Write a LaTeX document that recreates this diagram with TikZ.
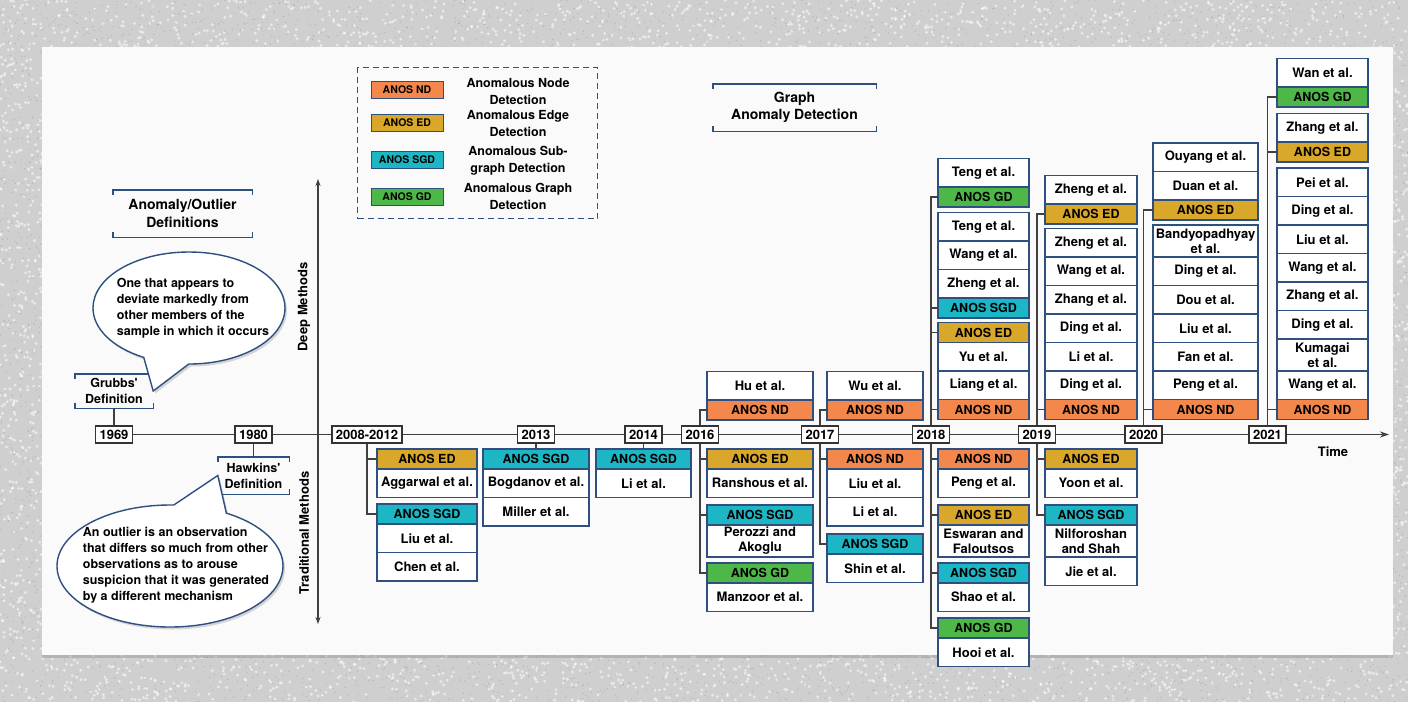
\documentclass[tikz,border=0pt]{standalone}
\usepackage{fontspec}
\setmainfont{TeX Gyre Heros}
\usepackage{xcolor}
\definecolor{navy}{HTML}{2F4F80}
\definecolor{ndorange}{HTML}{F4874B}
\definecolor{edgold}{HTML}{D9A72A}
\definecolor{sgdteal}{HTML}{1DB6C5}
\definecolor{gdgreen}{HTML}{4DB848}
\definecolor{paper}{HTML}{FAFAFA}
\usetikzlibrary{arrows.meta,positioning,shapes.callouts,shadows}
\newcommand{\brackets}[1]{%
  \draw[brk] ([yshift=-5pt]#1.north west) -- (#1.north west) -- (#1.north east) -- ([yshift=-5pt]#1.north east);
  \draw[brk] ([yshift=5pt]#1.south west) -- (#1.south west) -- (#1.south east) -- ([yshift=5pt]#1.south east);}

\begin{document}
\begin{tikzpicture}[
  x=1pt, y=-1pt,
  txt/.style={font=\fontsize{13}{15}\selectfont\bfseries},
  yr/.style={txt, draw=black!80, fill=white, line width=1.2pt, inner xsep=4pt, inner ysep=0pt, minimum height=17pt},
  box/.style={txt, draw=navy, line width=1.1pt, inner sep=0pt, outer sep=0pt, align=center, minimum width=100pt},
  ref/.style={box, fill=white, minimum height=28.5pt},
  reftwo/.style={ref, minimum height=32pt},
  hd/.style={box, minimum height=20pt, font=\fontsize{12.5}{15}\selectfont\bfseries},
  nd/.style={hd, fill=ndorange},
  ed/.style={hd, fill=edgold},
  sgd/.style={hd, fill=sgdteal},
  gd/.style={hd, fill=gdgreen},
  conn/.style={draw=black!75, line width=1.2pt},
  axis/.style={draw=black!75, line width=1.3pt},
  brk/.style={draw=navy, line width=1.4pt},
  ttl/.style={font=\fontsize{14}{17.5}\selectfont\bfseries, align=center, inner sep=0pt},
  defn/.style={font=\fontsize{12.5}{16}\selectfont\bfseries, align=center, inner sep=0pt, minimum height=34pt},
  bubble/.style={ellipse callout, draw=navy, line width=1.4pt, fill=white, callout pointer arc=28,
                 drop shadow={shadow xshift=2pt, shadow yshift=-2.5pt, opacity=0.3}},
  saying/.style={font=\fontsize{12.5}{16}\selectfont\bfseries, align=left, inner sep=0pt},
  legbox/.style={draw=navy, dashed, dash pattern=on 6pt off 4pt, line width=1.4pt, anchor=north west},
  swatch/.style={draw=navy, line width=1pt, minimum width=72pt, minimum height=17pt, inner sep=0pt,
                 font=\fontsize{10.5}{12}\selectfont\bfseries},
  leglab/.style={font=\fontsize{12.5}{17}\selectfont\bfseries, align=center, inner sep=0pt}
]
% frame
\useasboundingbox (0,0) rectangle (1408,702);
\fill[gray!38] (0,0) rectangle (1408,702);
\pgfmathsetseed{11}
\foreach \xa/\ya/\w/\h/\n in {0/0/1408/50/900, 0/650/1408/52/950, 0/50/45/600/400, 1390/50/18/600/180} {
  \foreach \i in {1,...,\n} {
    \fill[white, opacity=0.55] ({\xa+\w*rnd},{\ya+\h*rnd}) circle (1.6pt);
    \fill[black!40, opacity=0.6] ({\xa+\w*rnd},{\ya+\h*rnd}) circle (0.6pt);
  }
}
\fill[paper, drop shadow={shadow xshift=0pt, shadow yshift=-3pt, opacity=0.35}] (42,47) rectangle (1393,655);

% titles and legend
\node[ttl, minimum width=139pt, minimum height=47pt] (defs) at (182.5,213.5) {Anomaly/Outlier\\Definitions};
\brackets{defs}
\node[ttl, minimum width=163pt, minimum height=47pt] (gad) at (794.5,107.5) {Graph\\Anomaly Detection};
\brackets{gad}
\node[legbox, minimum width=240pt, minimum height=151pt] (legend) at (357,67) {};
\node[swatch, fill=ndorange] (lnd) at (407,90) {ANOS ND};
\node[leglab] (tnd) at (518,91) {Anomalous Node\\Detection};
\node[swatch, fill=edgold] (led) at (407,123) {ANOS ED};
\node[leglab] (ted) at (518,123) {Anomalous Edge\\Detection};
\node[swatch, fill=sgdteal] (lsgd) at (407,160) {ANOS SGD};
\node[leglab] (tsgd) at (518,160.5) {Anomalous Sub-\\graph Detection};
\node[swatch, fill=gdgreen] (lgd) at (407,197) {ANOS GD};
\node[leglab] (tgd) at (518,196) {Anomalous Graph\\Detection};

% axes
\coordinate (dtop) at (318,179);
\coordinate (dbot) at (318,624);
\draw[axis, {Stealth[length=7pt,width=5pt]}-{Stealth[length=7pt,width=5pt]}] (dbot) -- (dtop);
\node[txt, rotate=90] (deep) at (304,307) {Deep Methods};
\node[txt, rotate=90] (trad) at (304,533) {Traditional Methods};

\node[yr] (y69) at (114,434.5) {1969};
\node[yr] (y80) at (253.5,434.5) {1980};
\node[yr] (y0812) at (367,434.5) {2008-2012};
\node[yr] (y13) at (536,434.5) {2013};
\node[yr] (y14) at (643.5,434.5) {2014};
\node[yr] (y16) at (700,434.5) {2016};
\node[yr] (y17) at (820,434.5) {2017};
\node[yr] (y18) at (931,434.5) {2018};
\node[yr] (y19) at (1037,434.5) {2019};
\node[yr] (y20) at (1143.5,434.5) {2020};
\node[yr] (y21) at (1267.5,434.5) {2021};
\coordinate (tend) at (1389,434.5);
\draw[axis] (y69) -- (y80) -- (y0812) -- (y13) -- (y14) -- (y16) -- (y17) -- (y18) -- (y19) -- (y20) -- (y21);
\draw[axis, -{Stealth[length=9pt,width=6pt]}] (y21) -- (tend);
\node[txt] (time) at (1333,452) {Time};

% definitions
\node[defn, minimum width=78pt] (grubbs) at (114,391) {Grubbs\textquotesingle\\Definition};
\brackets{grubbs}
\draw[conn] (y69) -- (grubbs);
\node[defn, minimum width=71pt, minimum height=37pt] (hawkins) at (253.5,475.5) {Hawkins\textquotesingle\\Definition};
\brackets{hawkins}
\draw[conn] (y80) -- (hawkins);
\node[bubble, minimum width=192pt, minimum height=112pt, callout absolute pointer={(grubbs.east)}] (b1) at (189,308) {};
\node[saying] (s1) at (193,308) {One that appears to\\deviate markedly from\\other members of the\\sample in which it occurs};
\node[bubble, minimum width=226pt, minimum height=122pt, callout absolute pointer={(hawkins.west)}] (b2) at (170,566) {};
\node[saying] (s2) at (176,565) {An outlier is an observation\\that differs so much from other\\observations as to arouse\\suspicion that it was generated\\by a different mechanism};

% 2008-2012
\begin{scope}[box/.append style={minimum width=100pt}]
\node[ed, anchor=north west] (ed0812d) at (377,449) {ANOS ED};
\node[ref, below=0pt of ed0812d] (aggarwal0812) {Aggarwal et al.};
\node[sgd, anchor=north west] (sgd0812d) at (377,504) {ANOS SGD};
\node[ref, below=0pt of sgd0812d] (liu0812) {Liu et al.};
\node[ref, below=0pt of liu0812] (chen0812) {Chen et al.};
\end{scope}
\draw[conn] (y0812.south) |- (ed0812d.west);
\draw[conn] (y0812.south) |- (sgd0812d.west);

% 2013
\begin{scope}[box/.append style={minimum width=106pt}]
\node[sgd, anchor=north west] (sgd13d) at (483,449) {ANOS SGD};
\node[ref, below=0pt of sgd13d] (bogdanov13) {Bogdanov et al.};
\node[ref, below=0pt of bogdanov13] (miller13) {Miller et al.};
\end{scope}
\draw[conn] (y13.south) -- (sgd13d.north);

% 2014
\begin{scope}[box/.append style={minimum width=95pt}]
\node[sgd, anchor=north west] (sgd14d) at (596,449) {ANOS SGD};
\node[ref, below=0pt of sgd14d] (li14) {Li et al.};
\end{scope}
\draw[conn] (y14.south) -- (sgd14d.north);

% 2016
\begin{scope}[box/.append style={minimum width=106pt}]
\node[nd, anchor=south west] (nd16u) at (707,420) {ANOS ND};
\node[ref, above=0pt of nd16u] (hu16) {Hu et al.};
\node[ed, anchor=north west] (ed16d) at (707,449) {ANOS ED};
\node[ref, below=0pt of ed16d] (ranshous16) {Ranshous et al.};
\node[sgd, anchor=north west] (sgd16d) at (707,505) {ANOS SGD};
\node[reftwo, below=0pt of sgd16d] (perozzi16) {Perozzi and\\Akoglu};
\node[gd, anchor=north west] (gd16d) at (707,563) {ANOS GD};
\node[ref, below=0pt of gd16d] (manzoor16) {Manzoor et al.};
\end{scope}
\draw[conn] (y16.north) |- (nd16u.west);
\draw[conn] (y16.south) |- (ed16d.west);
\draw[conn] (y16.south) |- (sgd16d.west);
\draw[conn] (y16.south) |- (gd16d.west);

% 2017
\begin{scope}[box/.append style={minimum width=96pt}]
\node[nd, anchor=south west] (nd17u) at (827,420) {ANOS ND};
\node[ref, above=0pt of nd17u] (wu17) {Wu et al.};
\node[nd, anchor=north west] (nd17d) at (827,449) {ANOS ND};
\node[ref, below=0pt of nd17d] (liu17) {Liu et al.};
\node[ref, below=0pt of liu17] (li17) {Li et al.};
\node[sgd, anchor=north west] (sgd17d) at (827,534) {ANOS SGD};
\node[ref, below=0pt of sgd17d] (shin17) {Shin et al.};
\end{scope}
\draw[conn] (y17.north) |- (nd17u.west);
\draw[conn] (y17.south) |- (nd17d.west);
\draw[conn] (y17.south) |- (sgd17d.west);

% 2018
\begin{scope}[box/.append style={minimum width=91pt}]
\node[nd, anchor=south west] (nd18u) at (938,419.5) {ANOS ND};
\node[ref, above=0pt of nd18u] (liang18) {Liang et al.};
\node[ref, above=0pt of liang18] (yu18) {Yu et al.};
\node[ed, above=0pt of yu18] (ed18u) {ANOS ED};
\node[sgd, anchor=south west] (sgd18u) at (938,318) {ANOS SGD};
\node[ref, above=0pt of sgd18u] (zheng18) {Zheng et al.};
\node[ref, above=0pt of zheng18] (wang18) {Wang et al.};
\node[ref, above=0pt of wang18] (tengb18) {Teng et al.};
\node[gd, anchor=south west] (gd18u) at (938,207) {ANOS GD};
\node[ref, above=0pt of gd18u] (teng18) {Teng et al.};
\node[nd, anchor=north west] (nd18d) at (938,449) {ANOS ND};
\node[ref, below=0pt of nd18d] (peng18) {Peng et al.};
\node[ed, anchor=north west] (ed18d) at (938,505) {ANOS ED};
\node[reftwo, below=0pt of ed18d] (eswaran18) {Eswaran and\\Faloutsos};
\node[sgd, anchor=north west] (sgd18d) at (938,563) {ANOS SGD};
\node[ref, below=0pt of sgd18d] (shao18) {Shao et al.};
\node[gd, anchor=north west] (gd18d) at (938,618) {ANOS GD};
\node[ref, below=0pt of gd18d] (hooi18) {Hooi et al.};
\end{scope}
\draw[conn] (y18.north) |- (nd18u.west);
\draw[conn] (y18.north) |- (ed18u.west);
\draw[conn] (y18.north) |- (sgd18u.west);
\draw[conn] (y18.north) |- (gd18u.west);
\draw[conn] (y18.south) |- (nd18d.west);
\draw[conn] (y18.south) |- (ed18d.west);
\draw[conn] (y18.south) |- (sgd18d.west);
\draw[conn] (y18.south) |- (gd18d.west);

% 2019
\begin{scope}[box/.append style={minimum width=92pt}]
\node[nd, anchor=south west] (nd19u) at (1045,419.5) {ANOS ND};
\node[ref, above=0pt of nd19u] (dingb19) {Ding et al.};
\node[ref, above=0pt of dingb19] (li19) {Li et al.};
\node[ref, above=0pt of li19] (ding19) {Ding et al.};
\node[ref, above=0pt of ding19] (zhang19) {Zhang et al.};
\node[ref, above=0pt of zhang19] (wang19) {Wang et al.};
\node[ref, above=0pt of wang19] (zhengb19) {Zheng et al.};
\node[ed, anchor=south west] (ed19u) at (1045,224) {ANOS ED};
\node[ref, above=0pt of ed19u] (zheng19) {Zheng et al.};
\node[ed, anchor=north west] (ed19d) at (1045,449) {ANOS ED};
\node[ref, below=0pt of ed19d] (yoon19) {Yoon et al.};
\node[sgd, anchor=north west] (sgd19d) at (1045,505) {ANOS SGD};
\node[reftwo, below=0pt of sgd19d] (nilforoshan19) {Nilforoshan\\and Shah};
\node[ref, below=0pt of nilforoshan19] (jie19) {Jie et al.};
\end{scope}
\draw[conn] (y19.north) |- (nd19u.west);
\draw[conn] (y19.north) |- (ed19u.west);
\draw[conn] (y19.south) |- (ed19d.west);
\draw[conn] (y19.south) |- (sgd19d.west);

% 2020
\begin{scope}[box/.append style={minimum width=105pt}]
\node[nd, anchor=south west] (nd20u) at (1153,419.5) {ANOS ND};
\node[ref, above=0pt of nd20u] (peng20) {Peng et al.};
\node[ref, above=0pt of peng20] (fan20) {Fan et al.};
\node[ref, above=0pt of fan20] (liu20) {Liu et al.};
\node[ref, above=0pt of liu20] (dou20) {Dou et al.};
\node[ref, above=0pt of dou20] (ding20) {Ding et al.};
\node[reftwo, above=0pt of ding20] (bandyo20) {Bandyopadhyay\\et al.};
\node[ed, anchor=south west] (ed20u) at (1153,220) {ANOS ED};
\node[ref, above=0pt of ed20u] (duan20) {Duan et al.};
\node[ref, above=0pt of duan20] (ouyang20) {Ouyang et al.};
\end{scope}
\draw[conn] (y20.north) |- (nd20u.west);
\draw[conn] (y20.north) |- (ed20u.west);

% 2021
\begin{scope}[box/.append style={minimum width=91pt}]
\node[nd, anchor=south west] (nd21u) at (1277,419.5) {ANOS ND};
\node[ref, above=0pt of nd21u] (wangb21) {Wang et al.};
\node[reftwo, above=0pt of wangb21] (kumagai21) {Kumagai\\et al.};
\node[ref, above=0pt of kumagai21] (dingb21) {Ding et al.};
\node[ref, above=0pt of dingb21] (zhangb21) {Zhang et al.};
\node[ref, above=0pt of zhangb21] (wang21) {Wang et al.};
\node[ref, above=0pt of wang21] (liu21) {Liu et al.};
\node[ref, above=0pt of liu21] (ding21) {Ding et al.};
\node[ref, above=0pt of ding21] (pei21) {Pei et al.};
\node[ed, anchor=south west] (ed21u) at (1277,162) {ANOS ED};
\node[ref, above=0pt of ed21u] (zhang21) {Zhang et al.};
\node[gd, anchor=south west] (gd21u) at (1277,107) {ANOS GD};
\node[ref, above=0pt of gd21u] (wan21) {Wan et al.};
\end{scope}
\draw[conn] (y21.north) |- (nd21u.west);
\draw[conn] (y21.north) |- (ed21u.west);
\draw[conn] (y21.north) |- (gd21u.west);
\end{tikzpicture}
\end{document}
